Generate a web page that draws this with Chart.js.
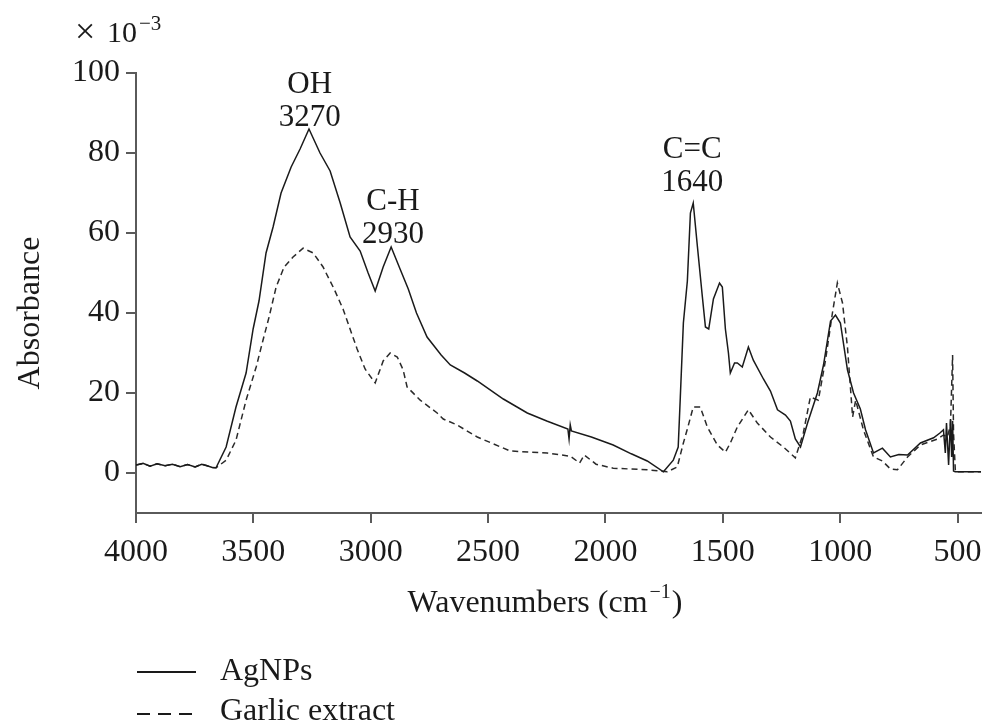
<!DOCTYPE html>
<html>
<head>
<meta charset="utf-8">
<script src="https://cdn.jsdelivr.net/npm/chart.js@4.4.0/dist/chart.umd.min.js"></script>
<style>
  body { margin: 0; background: #fff; }
  canvas { display: block; }
</style>
</head>
<body>
<canvas id="ftirChart" width="987" height="725"></canvas>
<script>
// wavenumbers (cm-1) and absorbance (x 10^-3)
const agWavenumbers = [4000, 3970, 3940, 3910, 3876, 3845, 3812, 3780, 3748, 3720, 3697, 3675, 3659,
    3616, 3574, 3531, 3501, 3476, 3446, 3416, 3382, 3339, 3301, 3263, 3216, 3173, 3130, 3088,
    3045, 3011, 2981, 2947, 2913, 2875, 2840, 2805, 2760, 2700, 2661, 2600, 2546, 2435, 2333, 2250, 2160,
    2155, 2150, 2145, 2060, 1967, 1890, 1822, 1753, 1711, 1690, 1681, 1668, 1651, 1638, 1626,
    1608, 1587, 1574, 1560, 1540, 1514, 1502, 1489, 1476, 1468, 1450, 1438, 1417, 1391, 1370,
    1327, 1297, 1267, 1233, 1212, 1191, 1169, 1139, 1097, 1071, 1041, 1020, 999, 969, 943, 914,
    892, 858, 820, 786, 750, 713, 658, 602, 575, 560, 552, 547, 538, 530, 525, 521, 517, 510, 400];
const agValues = [2.0, 2.4, 1.7, 2.3, 1.8, 2.2, 1.6, 2.1, 1.5, 2.2, 1.8, 1.4, 1.3,
    6.5, 16.5, 25, 36, 43, 55, 61.5, 70, 76.5, 81, 86, 80, 75.5, 67.5, 59,
    55.5, 50, 45.5, 51.5, 56.5, 51, 46, 40, 34, 29.5, 27, 25, 23, 18.5, 15, 13, 11,
    8.5, 12, 10.5, 9, 7, 4.8, 3, 0.3, 3.2, 6.5, 19, 37.5, 48, 65, 67.5,
    56.5, 44, 36.5, 36, 43.5, 47.5, 46.5, 36, 30, 25, 27.5, 27.5, 26.5, 31.5, 28.2,
    23.5, 20.5, 15.8, 14.5, 13, 8.5, 6.5, 12.5, 20, 27, 38, 39.5, 37.5, 25.8, 20, 16,
    10.8, 5, 6.2, 4, 4.6, 4.5, 7.5, 8.8, 10, 10.8, 5, 12.5, 2, 13.5, 4, 13, 0.5, 0.3, 0.3];

const garlicWavenumbers = [4000, 3970, 3940, 3910, 3876, 3845, 3812, 3780, 3748, 3720, 3697, 3675, 3659,
    3616, 3574, 3531, 3488, 3459, 3433, 3403, 3369, 3331, 3288, 3245, 3203, 3156, 3118, 3088,
    3058, 3024, 2981, 2947, 2917, 2887, 2862, 2845, 2789, 2717, 2691, 2632, 2546, 2406, 2248,
    2150, 2110, 2090, 2040, 1967, 1822, 1736, 1694, 1668, 1651, 1626, 1596, 1566, 1523, 1489,
    1468, 1438, 1391, 1353, 1297, 1242, 1191, 1157, 1127, 1093, 1063, 1033, 1012, 990, 969,
    947, 934, 901, 858, 820, 786, 756, 713, 658, 585, 560, 543, 530, 521, 517, 509, 400];
const garlicValues = [2.0, 2.4, 1.7, 2.3, 1.8, 2.2, 1.6, 2.1, 1.5, 2.2, 1.8, 1.4, 1.3,
    3.2, 8.2, 18.2, 26.5, 33.2, 39, 46.5, 51.5, 54, 56.2, 55, 51.5, 46, 41, 36,
    31, 26, 22.5, 28, 30, 29, 25.8, 21.5, 18.2, 15, 13.5, 12, 9, 5.5, 5,
    4.2, 2.5, 4.5, 2.2, 1.2, 0.8, 0.3, 1.5, 7.5, 11, 16.5, 16.5, 11.5, 7, 5.2,
    7.5, 11.5, 15.8, 12.5, 9, 6.5, 3.8, 10, 19, 18.2, 28, 40, 47.5, 42.5, 31.5,
    14, 18.2, 10.8, 4, 3, 1, 0.8, 4, 7, 8.5, 9.5, 9, 12, 29.5, 10, 0.3, 0.3];

const xTicks = [4000, 3500, 3000, 2500, 2000, 1500, 1000, 500];
const yTicks = [0, 20, 40, 60, 80, 100];

const peakNames = ['OH', 'C-H', 'C=C'];
const peakNumbers = ['3270', '2930', '1640'];
const peakAnchors = [3260, 2905, 1630];
const peakLabelValues = [95, 65.8, 78.8];

const FONT = "'Liberation Serif', 'DejaVu Serif', serif";
const INK = '#1a1a1a';
const AXIS = '#5a5a5a';

function toPoints(xs, ys) {
    return xs.map((x, i) => ({ x: x, y: ys[i] }));
}

const extraText = {
    id: 'extraText',
    afterDraw(chart) {
        const ctx = chart.ctx;
        const xs = chart.scales.x;
        const ys = chart.scales.y;
        ctx.save();
        ctx.fillStyle = INK;

        // peak labels
        ctx.font = '31px ' + FONT;
        ctx.textAlign = 'center';
        ctx.textBaseline = 'alphabetic';
        for (let i = 0; i < peakNames.length; i++) {
            const px = xs.getPixelForValue(peakAnchors[i]);
            const py = ys.getPixelForValue(peakLabelValues[i]);
            ctx.fillText(peakNames[i], px, py);
            ctx.fillText(peakNumbers[i], px, py + 33);
        }

        // exponent above the y axis
        ctx.textAlign = 'left';
        ctx.font = '36px ' + FONT;
        ctx.fillText('\u00d7', 75, 43);
        ctx.font = '30px ' + FONT;
        ctx.fillText('10', 107, 42);
        ctx.font = '21px ' + FONT;
        ctx.fillText('\u22123', 139, 30);

        // y title
        ctx.save();
        ctx.translate(39, 313);
        ctx.rotate(-Math.PI / 2);
        ctx.textAlign = 'center';
        ctx.font = '32px ' + FONT;
        ctx.fillText('Absorbance', 0, 0);
        ctx.restore();

        // x title with superscript
        const t1 = 'Wavenumbers (cm';
        ctx.font = '20px ' + FONT;
        const wSup = ctx.measureText('\u22121').width;
        ctx.font = '32px ' + FONT;
        const w1 = ctx.measureText(t1).width;
        const w3 = ctx.measureText(')').width;
        let x0 = 545 - (w1 + wSup + 3 + w3) / 2;
        ctx.fillText(t1, x0, 612);
        ctx.font = '20px ' + FONT;
        ctx.fillText('\u22121', x0 + w1 + 2, 598);
        ctx.font = '32px ' + FONT;
        ctx.fillText(')', x0 + w1 + wSup + 3, 612);

        // legend
        ctx.strokeStyle = INK;
        ctx.lineWidth = 2;
        ctx.beginPath();
        ctx.moveTo(137, 672);
        ctx.lineTo(196, 672);
        ctx.stroke();
        ctx.setLineDash([13, 8]);
        ctx.beginPath();
        ctx.moveTo(137, 714);
        ctx.lineTo(196, 714);
        ctx.stroke();
        ctx.setLineDash([]);
        ctx.font = '32px ' + FONT;
        ctx.fillText('AgNPs', 220, 680);
        ctx.fillText('Garlic extract', 220, 720);
        ctx.restore();
    }
};

new Chart(document.getElementById('ftirChart').getContext('2d'), {
    type: 'line',
    data: {
        datasets: [{
            label: 'AgNPs',
            data: toPoints(agWavenumbers, agValues),
            borderColor: INK,
            borderWidth: 1.5,
            pointRadius: 0,
            tension: 0
        }, {
            label: 'Garlic extract',
            data: toPoints(garlicWavenumbers, garlicValues),
            borderColor: '#2a2a2a',
            borderWidth: 1.5,
            borderDash: [6, 4],
            pointRadius: 0,
            tension: 0
        }]
    },
    options: {
        responsive: false,
        animation: false,
        layout: { padding: { top: 73, right: 6, left: 0, bottom: 0 } },
        plugins: { legend: { display: false }, tooltip: { enabled: false } },
        scales: {
            x: {
                type: 'linear',
                reverse: true,
                min: 400,
                max: 4000,
                afterBuildTicks: s => { s.ticks = xTicks.map(v => ({ value: v })); },
                afterFit: s => { s.height = 212; s.paddingLeft = 0; s.paddingRight = 0; },
                ticks: {
                    font: { family: FONT, size: 32 }, color: INK, padding: 10, maxRotation: 0, autoSkip: false,
                    callback: v => String(v)
                },
                grid: { drawOnChartArea: false, tickLength: 10, color: AXIS, lineWidth: 2 },
                border: { color: AXIS, width: 2 }
            },
            y: {
                min: -10,
                max: 100,
                afterBuildTicks: s => { s.ticks = yTicks.map(v => ({ value: v })); },
                afterFit: s => { s.width = 136; },
                ticks: { font: { family: FONT, size: 32 }, color: INK, padding: 6, callback: v => String(v) },
                grid: { drawOnChartArea: false, tickLength: 10, color: AXIS, lineWidth: 2 },
                border: { color: AXIS, width: 2 }
            }
        }
    },
    plugins: [extraText]
});
</script>
</body>
</html>
